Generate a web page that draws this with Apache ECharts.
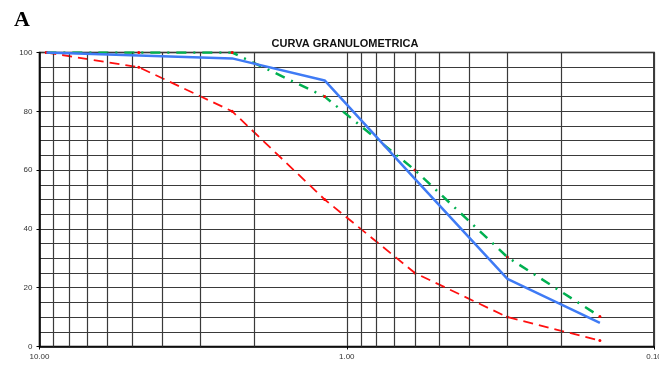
<!DOCTYPE html>
<html><head><meta charset="utf-8">
<script src="https://cdn.jsdelivr.net/npm/echarts@6/dist/echarts.min.js"></script>
<style>html,body{margin:0;padding:0;background:#fff;}#c{width:659px;height:365px;}</style>
</head><body><div id="c"></div>
<script>
const sieves = [9.5, 4.75, 2.36, 1.18, 0.6, 0.3, 0.15];
const redValues = [100, 95, 80, 50, 25, 10, 2];
const blueValues = [100, 99, 98, 90.5, 57, 23, 8];
const greenValues = [100, 100, 100, 85, 60, 30.4, 10.2];
const xGridLines = [9, 8, 7, 6, 5, 4, 3, 2, 0.9, 0.8, 0.7, 0.6, 0.5, 0.4, 0.3, 0.2];
const yTickLabels = [0, 20, 40, 60, 80, 100];
const titleText = 'CURVA GRANULOMETRICA';
const panelLetter = 'A';

const pairs = vals => sieves.map((s, i) => [s, vals[i]]);
const chart = echarts.init(document.getElementById('c'), null, {renderer: 'canvas'});
const gridColor = '#3a3a3a';
chart.setOption({
  animation: false,
  backgroundColor: '#fff',
  title: [
    {text: panelLetter, left: 9, top: 4, textStyle: {fontFamily: 'Liberation Serif', fontWeight: 'bold', fontSize: 22, color: '#000'}},
    {text: titleText, left: 340, top: 33, textAlign: 'center', textStyle: {fontFamily: 'Liberation Sans', fontWeight: 'bold', fontSize: 11, color: '#111'}}
  ],
  grid: {left: 39.5, right: 5, top: 52.5, bottom: 18.5, show: true, borderColor: '#000', borderWidth: 1.5,
    containLabel: false, outerBoundsMode: 'none'},
  xAxis: {
    type: 'log', logBase: 10, min: 0.1, max: 10, inverse: true,
    axisLine: {show: true, lineStyle: {color: '#000', width: 1.5}},
    axisTick: {show: true, length: 3, lineStyle: {color: '#000'}},
    axisLabel: {fontFamily: 'Liberation Sans', fontSize: 8, color: '#333', margin: 6,
      formatter: v => Number(v).toFixed(2)},
    splitLine: {show: true, lineStyle: {color: gridColor, width: 1.2}},
    minorTick: {show: false}
  },
  yAxis: {
    type: 'value', min: 0, max: 100, interval: 20,
    axisLine: {show: true, lineStyle: {color: '#000', width: 1.5}},
    axisTick: {show: true, length: 3, lineStyle: {color: '#000'}},
    axisLabel: {fontFamily: 'Liberation Sans', fontSize: 8, color: '#333', margin: 7,
      formatter: v => yTickLabels.includes(v) ? String(v) : ''},
    splitLine: {show: true, lineStyle: {color: gridColor, width: 1.2}},
    minorTick: {show: false, splitNumber: 4},
    minorSplitLine: {show: true, lineStyle: {color: gridColor, width: 1.2}}
  },
  series: [
    {
      type: 'line', data: [], silent: true,
      markLine: {silent: true, symbol: ['none', 'none'], label: {show: false},
        lineStyle: {type: 'solid', color: gridColor, width: 1.2},
        data: xGridLines.map(v => ({xAxis: v}))}
    },
    {
      name: 'red', type: 'line', data: pairs(redValues), z: 3,
      symbol: 'circle', symbolSize: 3, itemStyle: {color: '#ff0000'},
      lineStyle: {color: '#ff1010', width: 1.8, type: [10, 6]}
    },
    {
      name: 'green', type: 'line', data: pairs(greenValues), z: 4,
      symbol: 'circle', symbolSize: 3, itemStyle: {color: '#ff0000'},
      lineStyle: {color: '#00b050', width: 2.5, type: [10, 7, 2, 7]}
    },
    {
      name: 'blue', type: 'line', data: pairs(blueValues), z: 5,
      symbol: 'none',
      lineStyle: {color: '#3f7bf5', width: 2.5}
    }
  ]
});
</script></body></html>
